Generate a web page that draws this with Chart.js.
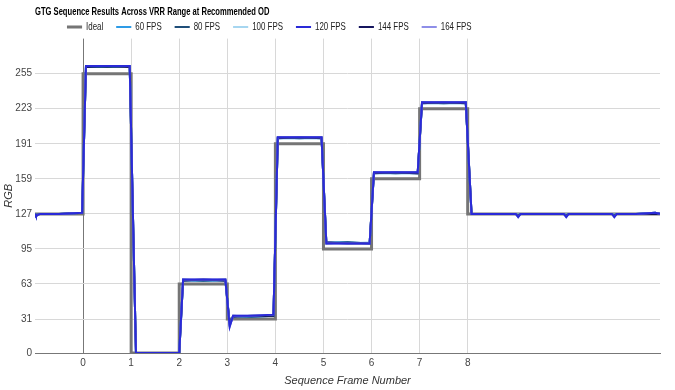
<!DOCTYPE html>
<html>
  <head>
    <script src="https://cdn.jsdelivr.net/npm/chart.js@4.4.1/dist/chart.umd.min.js"></script>
    <style>
      body { margin: 0; background: #fff; }
      #wrap { width: 675px; height: 390px; }
    </style>
  </head>

  <body>
    <div id="wrap"><canvas id="canvas"></canvas></div>
    <script>
      const seriesNames = ['Ideal', '60 FPS', '80 FPS', '100 FPS', '120 FPS', '144 FPS', '164 FPS'];
      const xTicks = [0, 1, 2, 3, 4, 5, 6, 7, 8];
      const yTicks = [0, 31, 63, 95, 127, 159, 191, 223, 255];

      // ideal target levels (step per frame)
      const idealX = [-1, 0, 0, 1, 1, 2, 2, 3, 3, 4, 4, 5, 5, 6, 6, 7, 7, 8, 8, 12];
      const idealY = [127, 127, 255, 255, 0, 0, 63, 63, 31, 31, 191, 191, 95, 95, 159, 159, 223, 223, 127, 127];

      // measured capture positions (frames)
      const frameX = [-1, -0.98, -0.9, -0.5, -0.02, 0.06, 0.5, 0.97, 1.1, 2.0, 2.08, 2.5, 2.96, 3.05, 3.12, 3.5, 3.96,
        4.05, 4.5, 4.96, 5.06, 5.5, 5.96, 6.05, 6.5, 6.96, 7.05, 7.5, 7.96, 8.08, 8.5, 9.0, 9.05, 9.1, 9.5,
        10.0, 10.05, 10.1, 10.5, 11.0, 11.05, 11.1, 11.5, 11.9, 12];
      const fps60 = [127, 126, 127, 127, 128, 261, 261, 261, 0, 0, 66, 66, 66, 27, 33, 33, 34, 196, 196, 196, 101, 101, 100,
        164, 164, 164, 228, 228, 228, 127, 127, 127, 126, 127, 127, 127, 126, 127, 127, 127, 126, 127, 127, 128, 127];
      const fps80 = [127, 125, 127, 127, 128, 262, 261, 262, 0, 0, 67, 66, 67, 26, 34, 33, 34, 197, 196, 197, 100, 101, 100,
        165, 164, 165, 229, 228, 229, 127, 127, 127, 125, 127, 127, 127, 125, 127, 127, 127, 125, 127, 127, 128, 127];
      const fps100 = [127, 126, 127, 127, 128, 262, 262, 261, 0, 0, 66, 67, 66, 25, 33, 34, 34, 196, 197, 196, 101, 100, 101,
        164, 165, 164, 228, 229, 228, 127, 127, 127, 126, 127, 127, 127, 126, 127, 127, 127, 126, 127, 127, 127, 127];
      const fps120 = [127, 125, 127, 127, 128, 262, 262, 262, 0, 0, 67, 67, 67, 24, 34, 34, 35, 197, 197, 197, 100, 100, 100,
        165, 165, 165, 229, 229, 229, 127, 127, 127, 124, 127, 127, 127, 124, 127, 127, 127, 124, 127, 127, 128, 127];
      const fps144 = [127, 126, 127, 127, 128, 261, 262, 261, 0, 0, 66, 67, 66, 26, 33, 34, 34, 196, 197, 196, 101, 100, 100,
        164, 165, 164, 228, 229, 228, 127, 127, 127, 125, 127, 127, 127, 125, 127, 127, 127, 125, 127, 127, 127, 127];
      const fps164 = [127, 125, 127, 127, 128, 262, 262, 262, 0, 0, 67, 67, 67, 24, 34, 34, 35, 197, 197, 197, 100, 100, 100,
        165, 165, 165, 229, 229, 229, 127, 127, 127, 124, 127, 127, 127, 124, 127, 127, 127, 124, 127, 127, 128, 127];

      const colors = ['#757575', '#2e9be6', '#1f4e79', '#a6d6f0', '#2a2ad8', '#15155e', '#8e8ee8'];
      const measured = [fps60, fps80, fps100, fps120, fps144, fps164];
      const drawOrder = [5, 3, 4, 0, 2, 1]; // 120 FPS ends up on top

      const sans = "'Liberation Sans', Arial, sans-serif";

      const datasets = [
        {
          label: seriesNames[0],
          data: idealX.map((x, i) => ({ x, y: idealY[i] })),
          borderColor: colors[0],
          backgroundColor: colors[0],
          borderWidth: 3,
          order: 6,
        },
      ].concat(
        measured.map((ys, k) => ({
          label: seriesNames[k + 1],
          data: frameX.map((x, i) => ({ x, y: ys[i] })),
          borderColor: colors[k + 1],
          backgroundColor: colors[k + 1],
          borderWidth: 2,
          order: drawOrder[k],
        }))
      );

      // the source uses a narrow face for title + legend, no such font here -> squeeze horizontally
      const squeeze = (box, k) => {
        if (box._squeezed) return;
        box._squeezed = true;
        const draw = box.draw;
        box.draw = function (...args) {
          const ctx = this.ctx;
          ctx.save();
          ctx.translate(this.left, 0);
          ctx.scale(k, 1);
          ctx.translate(-this.left, 0);
          draw.apply(this, args);
          ctx.restore();
        };
      };

      const placeTop = {
        id: 'placeTop',
        afterLayout(chart) {
          chart.legend.left = 54;
          chart.legend.top = 3.5;
          squeeze(chart.legend, 0.72);
          squeeze(chart.titleBlock, 0.76);
        },
      };

      new Chart(document.getElementById('canvas'), {
        type: 'line',
        data: { datasets },
        plugins: [placeTop],
        options: {
          responsive: true,
          maintainAspectRatio: false,
          devicePixelRatio: 1,
          animation: false,
          layout: { padding: { right: 15 } },
          elements: { point: { radius: 0 }, line: { tension: 0 } },
          plugins: {
            title: {
              display: true,
              text: 'GTG Sequence Results Across VRR Range at Recommended OD',
              align: 'start',
              fullSize: false,
              color: '#000',
              font: { family: sans, size: 10, weight: 'bold' },
              padding: { top: 6, bottom: 0 },
            },
            legend: {
              position: 'top',
              align: 'start',
              maxHeight: 20.6,
              labels: {
                boxWidth: 21,
                boxHeight: 0,
                padding: 18,
                color: '#222',
                font: { family: sans, size: 11 },
                sort: (a, b) => a.datasetIndex - b.datasetIndex,
              },
            },
            tooltip: { enabled: false },
          },
          scales: {
            x: {
              type: 'linear',
              min: -1,
              max: 12,
              afterBuildTicks: (s) => { s.ticks = xTicks.map((v) => ({ value: v })); },
              afterFit: (s) => { s.height = 37; },
              grid: {
                color: (c) => (c.tick && c.tick.value === 0 ? '#777' : '#d8d8d8'),
                drawTicks: false,
              },
              border: { display: true, color: '#777' },
              ticks: { padding: 4, color: '#444', font: { family: sans, size: 10 }, autoSkip: false, maxRotation: 0 },
              title: {
                display: true,
                text: 'Sequence Frame Number',
                color: '#333',
                font: { family: sans, size: 11, style: 'italic' },
                padding: { top: 2, bottom: 2 },
              },
            },
            y: {
              min: 0,
              max: 287,
              afterBuildTicks: (s) => { s.ticks = yTicks.map((v) => ({ value: v })); },
              afterFit: (s) => { s.width = 35; },
              grid: {
                color: (c) => (c.tick && c.tick.value === 0 ? '#777' : '#d8d8d8'),
                drawTicks: false,
              },
              border: { display: false },
              ticks: { padding: 3, color: '#444', font: { family: sans, size: 10 } },
              title: {
                display: true,
                text: 'RGB',
                color: '#333',
                font: { family: sans, size: 11, style: 'italic' },
                padding: { top: 2, bottom: 0 },
              },
            },
          },
        },
      });
    </script>
  </body>
</html>
